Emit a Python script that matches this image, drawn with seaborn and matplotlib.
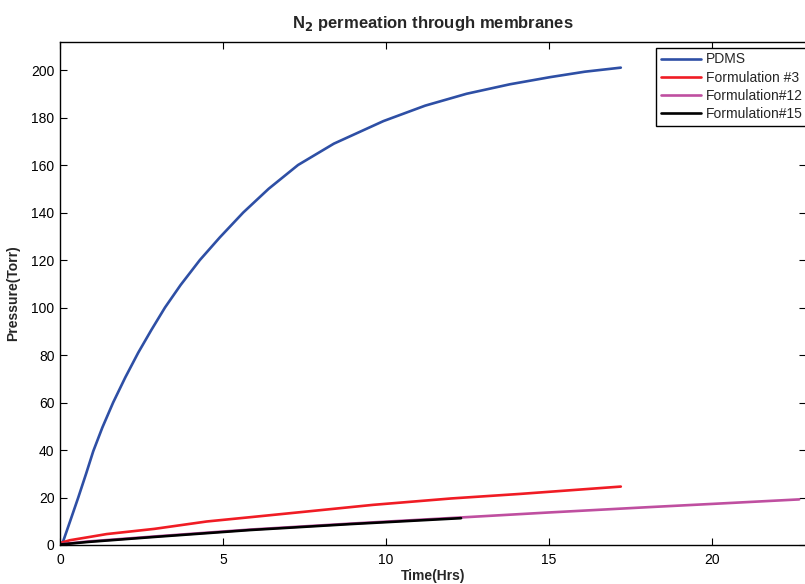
import pandas as pd
import numpy as np
import seaborn as sns
import matplotlib.pyplot as plt

# values
pdms_t = [0.0, 0.07, 0.31, 0.56, 0.8, 1.02, 1.3, 1.63, 2.0, 2.4, 2.8, 3.22, 3.7,
          4.29, 4.9, 5.62, 6.4, 7.30, 8.4, 9.92, 11.2, 12.47, 13.8, 15.03, 16.1, 17.2]
pdms_p = [0.0, 0.5, 10.0, 20.0, 30.0, 39.5, 49.5, 60.0, 70.5, 81.0, 90.5, 100.0, 109.5,
          120.0, 129.5, 140.0, 150.0, 160.0, 169.0, 178.5, 185.0, 190.0, 194.0, 197.0,
          199.3, 201.0]

f3_t = [0.0, 0.3, 0.87, 1.43, 2.9, 4.5, 5.9, 7.5, 9.6, 12.0, 14.1, 17.2]
f3_p = [0.8, 2.0, 3.3, 4.6, 6.8, 9.9, 11.8, 14.0, 16.9, 19.6, 21.5, 24.6]

f12_t = [0.0, 0.87, 2.9, 5.83, 8.9, 12.3, 15.0, 18.0, 20.0, 22.67]
f12_p = [0.3, 1.5, 3.6, 6.5, 9.0, 11.6, 13.7, 15.9, 17.3, 19.2]

f15_t = [0.0, 0.87, 2.9, 5.83, 8.9, 12.3]
f15_p = [0.2, 1.3, 3.4, 6.3, 8.8, 11.3]

names = ['PDMS', 'Formulation #3', 'Formulation#12', 'Formulation#15']
colors = ['#2E4FA5', '#F01C24', '#BF4FA0', '#000000']

series = [(pdms_t, pdms_p), (f3_t, f3_p), (f12_t, f12_p), (f15_t, f15_p)]
frames = []
for name, (t, p) in zip(names, series):
    frames.append(pd.DataFrame({'time': t, 'pressure': p, 'sample': name}))
data = pd.concat(frames, ignore_index=True)

sns.set_style('ticks')
plt.rcParams['font.family'] = ['Liberation Sans', 'DejaVu Sans']

fig = plt.figure(figsize=(8.05, 5.84), dpi=100)
ax = fig.add_axes([60 / 805, 39 / 584, 746 / 805, 503 / 584])

sns.lineplot(data=data, x='time', y='pressure', hue='sample', hue_order=names,
             palette=dict(zip(names, colors)), sort=False, estimator=None,
             linewidth=1.9, ax=ax)

ax.set_xlim(0, 22.88)
ax.set_ylim(0, 211.8)
ax.set_xticks([0, 5, 10, 15, 20])
ax.set_yticks(range(0, 201, 20))
ax.tick_params(direction='in', length=5, width=0.8, top=True, right=True,
               labelsize=10, colors='black')
ax.tick_params(axis='x', pad=6)
ax.tick_params(axis='y', pad=4)
for s in ax.spines.values():
    s.set_linewidth(1.0)
    s.set_color('black')

ax.set_xlabel('Time(Hrs)', fontsize=10, fontweight='bold', labelpad=1)
ax.set_ylabel('Pressure(Torr)', fontsize=10, fontweight='bold', labelpad=8)
ax.set_title('N$_\\mathbf{2}$ permeation through membranes', fontsize=12,
             fontweight='bold', pad=10)

leg = ax.legend(loc='upper right', bbox_to_anchor=(1.01, 1.0), fontsize=10,
                frameon=True, fancybox=False, edgecolor='black',
                handlelength=2.9, handletextpad=0.35, labelspacing=0.3,
                borderpad=0.35, borderaxespad=0.4)
leg.get_frame().set_linewidth(1.0)
leg.get_frame().set_alpha(1)

fig.savefig('out.png', dpi=100)
